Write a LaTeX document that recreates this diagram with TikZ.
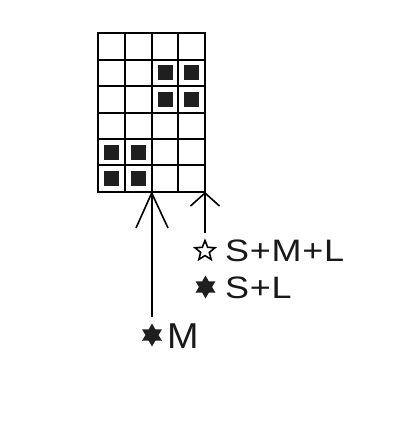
\documentclass[tikz,border=0pt]{standalone}
\usepackage{fontspec}
\setmainfont{Liberation Sans}
\usetikzlibrary{shapes.geometric,calc}
\begin{document}
\begin{tikzpicture}[x=1pt,y=-1pt,
  gridline/.style={line width=2pt,black},
  filled/.style={fill=black!88},
  arrowline/.style={line width=1.6pt,black},
  lbl/.style={anchor=base west,inner sep=0pt,font=\fontsize{31}{36}\selectfont\addfontfeature{LetterSpace=2},text=black!90,xscale=1.16},
  bigl/.style={anchor=base west,inner sep=0pt,font=\fontsize{36}{40}\selectfont,text=black!90,xscale=1.05},
  sixstar/.style={star,star points=6,star point ratio=1.75,fill=black!88,inner sep=0pt,minimum size=23pt},
  fivestar/.style={star,star points=5,star point ratio=2.3,draw=black,line width=1.6pt,fill=white,inner sep=0pt,minimum size=21pt}]
\useasboundingbox (0,0) rectangle (400,421);
% grid
\def\gx{98.3}\def\gy{33.3}\def\cw{26.7}\def\ch{26.4}
\foreach \i in {0,...,4} \draw[gridline] (\gx+\i*\cw,\gy) -- (\gx+\i*\cw,\gy+6*\ch);
\foreach \j in {0,...,6} \draw[gridline] (\gx-1,\gy+\j*\ch) -- (\gx+4*\cw+1,\gy+\j*\ch);
% black squares (col,row) from top-left
\foreach \c/\r in {2/1,3/1,2/2,3/2,0/4,1/4,0/5,1/5}
  \fill[filled] (\gx+\c*\cw+\cw/2-7.5,\gy+\r*\ch+\ch/2-7.5) rectangle ++(15,15);
% anchor coordinates
\coordinate (tipM) at (151.7,193);
\coordinate (tipS) at (205,193);
% labels
\node[fivestar] (st1) at (205,251) {};
\node[lbl] (t1) at (225,261) {S+M+L};
\node[sixstar] (st2) at (205.5,287) {};
\node[lbl] (t2) at (225,298) {S+L};
\node[sixstar] (st3) at (152,335) {};
\node[bigl] (t3) at (167,348) {M};
\coordinate (endM) at (151.7,317);
\coordinate (endS) at (205,233);
% arrows
\draw[arrowline] (endM) -- (tipM);
\draw[arrowline] ($(tipM)+(-15.7,35)$) -- (tipM) -- ($(tipM)+(16.3,35)$);
\draw[arrowline] (endS) -- (tipS);
\draw[arrowline] ($(tipS)+(-14.5,13)$) -- (tipS) -- ($(tipS)+(14.5,13)$);
\end{tikzpicture}
\end{document}
